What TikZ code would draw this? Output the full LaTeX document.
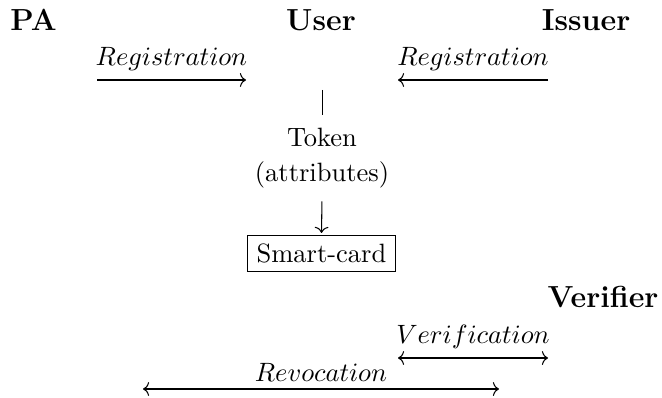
\documentclass[tikz,border=0pt]{standalone}
\usepackage{fontspec}
\usetikzlibrary{arrows.meta}
\begin{document}
\begin{tikzpicture}[x=0.3774pt, y=-0.3774pt,
  >={To[length=2.3pt, width=5.2pt]},
  role/.style={font=\fontsize{11.5}{13}\selectfont\bfseries, anchor=base, inner sep=0pt},
  flow/.style={->},
  both/.style={<->},
  lbl/.style={above}]
\useasboundingbox (0,0) rectangle (662,398);

% parties
\node[role] (pa) at (33.5,31) {PA};
\node[role] (user) at (321,31) {User};
\node[role] (issuer) at (586,31) {Issuer};
\node[role] (verifier) at (603,307) {Verifier};

% registration arrows
\coordinate (regLa) at (97,80);
\coordinate (regLb) at (246,80);
\coordinate (regRa) at (548,80);
\coordinate (regRb) at (398,80);
\draw[flow] (regLa) -- node[lbl] {$Registration$} (regLb);
\draw[flow] (regRa) -- node[lbl] {$Registration$} (regRb);

% token issued to the user and stored on the card
\coordinate (tkA) at (322.5,90);
\coordinate (tkB) at (322.5,115);
\draw (tkA) -- (tkB);
\node[align=center] (tok) at (322,158) {Token\\[1.3pt](attributes)};
\node[draw] (card) at (321.5,253.5) {Smart-card};
\draw[flow, shorten <=1.5pt, shorten >=0.6pt] (tok.south) -- (card.north);

% verification and revocation
\coordinate (vfA) at (398,358);
\coordinate (vfB) at (548,358);
\draw[both] (vfA) -- node[lbl] {$Verification$} (vfB);
\coordinate (rvA) at (143,389);
\coordinate (rvB) at (499,389);
\draw[both] (rvA) -- node[lbl, inner sep=2.6pt] {$Revocation$} (rvB);
\end{tikzpicture}
\end{document}
